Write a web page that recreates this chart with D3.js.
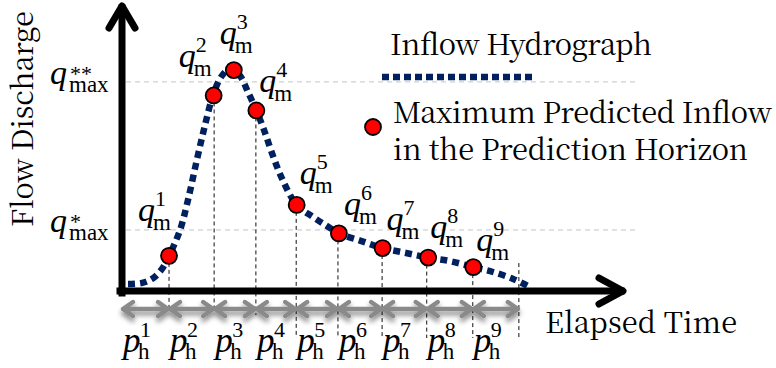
<!DOCTYPE html>
<html>
<head>
<meta charset="utf-8">
<script src="https://cdn.jsdelivr.net/npm/d3@7"></script>
<style>
  body { margin: 0; background: #fff; }
  svg { display: block; }
</style>
</head>
<body>
<div id="chart"></div>
<script>
/* Hydrograph samples (time, discharge) */
const hydroT = [0.125, 0.42, 0.65, 0.83, 0.98, 1.21, 1.375, 1.56, 1.73, 1.90, 2.08, 2.27, 2.46, 2.625, 2.80, 2.96,
  3.125, 3.33, 3.64, 3.98, 4.27, 4.52, 4.96, 5.43, 5.92, 6.375, 6.83, 7.32, 7.73, 8.15, 8.46];
const hydroQ = [0.24, 0.28, 0.45, 0.76, 1.22, 2.12, 3.16, 4.55, 5.76, 6.81, 7.47, 7.74, 7.47, 6.91, 6.27, 5.59,
  4.79, 3.92, 2.99, 2.57, 2.26, 2.0, 1.75, 1.49, 1.32, 1.16, 1.04, 0.83, 0.66, 0.42, 0.17];

/* Maximum predicted inflow in each horizon */
const peakT = [0.98, 1.91, 2.33, 2.80, 3.64, 4.52, 5.43, 6.38, 7.32];
const peakQ = [1.22, 6.79, 7.67, 6.27, 2.99, 2.0, 1.49, 1.16, 0.83];
const peakSup = ["1", "2", "3", "4", "5", "6", "7", "8", "9"];

/* Prediction horizon boundaries */
const horizonT = [0, 0.98, 1.92, 2.79, 3.63, 4.5, 5.42, 6.35, 7.31, 8.27];
const horizonSup = ["1", "2", "3", "4", "5", "6", "7", "8", "9"];
/* discharge where each boundary's dashed drop line starts (boundaries 1..9) */
const dropQ = [1.22, 6.79, 6.27, 2.99, 2.0, 1.49, 1.16, 0.83, 0.97];

/* Threshold levels */
const levelQ = [7.26, 2.12];
const levelSup = ["**", "*"];

/* Layout-only constants */
const labelOffsets = [[-31, -35], [-35, -28], [-14, -26], [3, -18], [3, -21], [5, -18], [4, -18], [2, -20], [3, -16]];
const dropBottom = [312, 312, 315, 338, 338, 338, 338, 338, 338];

const width = 776, height = 368;
const navy = "#002060";
const serif = '"Liberation Serif"';
const wideSerif = '"Noto Serif CJK SC"';

const svg = d3.select("#chart").append("svg")
  .attr("width", width).attr("height", height)
  .attr("viewBox", [0, 0, width, height]);

const defs = svg.append("defs");
const shadow = defs.append("filter").attr("id", "shadow")
  .attr("x", "-20%").attr("y", "-100%").attr("width", "140%").attr("height", "300%");
shadow.append("feDropShadow")
  .attr("dx", 0).attr("dy", 4).attr("stdDeviation", 2.5)
  .attr("flood-color", "#000").attr("flood-opacity", 0.45);

const x = d3.scaleLinear().domain([0, 10.44]).range([122, 623]);
const y = d3.scaleLinear().domain([0, 10]).range([291, 3]);

/* Threshold gridlines */
svg.append("g")
  .selectAll("line")
  .data(levelQ)
  .join("line")
    .attr("x1", x(0) + 4).attr("x2", 637)
    .attr("y1", d => y(d)).attr("y2", d => y(d))
    .attr("stroke", "#c4c4c4").attr("stroke-width", 1)
    .attr("stroke-dasharray", "5,4");

/* Drop lines from horizon ends */
svg.append("g")
  .selectAll("line")
  .data(horizonT.slice(1))
  .join("line")
    .attr("x1", d => x(d)).attr("x2", d => x(d))
    .attr("y1", (d, i) => y(dropQ[i]))
    .attr("y2", (d, i) => dropBottom[i])
    .attr("stroke", "#111").attr("stroke-width", 1)
    .attr("stroke-dasharray", "4,3");

/* Horizon arrows */
const arrowY = 309;
const segs = d3.pairs(horizonT);
svg.append("g")
  .attr("filter", "url(#shadow)")
  .selectAll("path")
  .data(segs)
  .join("path")
    .attr("stroke", "#8a8a8a").attr("stroke-width", 4.5)
    .attr("fill", "none").attr("stroke-linecap", "round").attr("stroke-linejoin", "round")
    .attr("d", ([a, b]) => {
      const x0 = x(a) + 1, x1 = x(b) - 1;
      return `M${x0},${arrowY}L${x1},${arrowY}` +
        `M${x0 + 10},${arrowY - 7}L${x0},${arrowY}L${x0 + 10},${arrowY + 7}` +
        `M${x1 - 10},${arrowY - 7}L${x1},${arrowY}L${x1 - 10},${arrowY + 7}`;
    });

/* Axes with arrow heads */
const yTop = y.range()[1] + 3, xEnd = x.range()[1];
const axisPaths = [
  `M${x(0)},${y(0) + 2}L${x(0)},${yTop + 2}M${x(0) - 2},${y(0)}L${xEnd - 2},${y(0)}`,
  `M${x(0) - 13},${yTop + 22}L${x(0)},${yTop}L${x(0) + 13},${yTop + 22}`,
  `M${xEnd - 24},${y(0) - 13}L${xEnd},${y(0)}L${xEnd - 24},${y(0) + 13}`
];
svg.append("g")
  .selectAll("path")
  .data(axisPaths)
  .join("path")
    .attr("d", d => d)
    .attr("stroke", "#000").attr("stroke-width", 7).attr("fill", "none")
    .attr("stroke-linecap", (d, i) => i === 0 ? "square" : "round")
    .attr("stroke-linejoin", "round");

/* Hydrograph */
const line = d3.line()
  .x(d => x(d))
  .y((d, i) => y(hydroQ[i]))
  .curve(d3.curveCatmullRom);
svg.append("path")
  .attr("d", line(hydroT))
  .attr("fill", "none")
  .attr("stroke", navy).attr("stroke-width", 6.5)
  .attr("stroke-dasharray", "7,5");

/* Peak points */
svg.append("g")
  .selectAll("circle")
  .data(peakT)
  .join("circle")
    .attr("cx", d => x(d))
    .attr("cy", (d, i) => y(peakQ[i]))
    .attr("r", 8)
    .attr("fill", "#ff0000").attr("stroke", "#000").attr("stroke-width", 1.8);

/* Math-style label in one text: italic base, stacked superscript and subscript */
const mathLabel = (g, x0, yb, base, sup, sub, opts = {}) => {
  const t = g.append("text").attr("fill", "#000").style("font-family", serif);
  t.append("tspan").attr("x", x0).attr("y", yb)
    .style("font-family", serif).style("font-size", `${opts.baseSize ?? 34}px`)
    .style("font-style", "italic").text(base);
  t.append("tspan").attr("x", x0 + (opts.supDx ?? 17)).attr("y", yb + (opts.supDy ?? -15))
    .style("font-family", serif).style("font-size", "22px").text(sup);
  t.append("tspan").attr("x", x0 + (opts.subDx ?? 15)).attr("y", yb + (opts.subDy ?? 9))
    .style("font-family", serif).style("font-size", `${opts.subSize ?? 23}px`).text(sub);
};

const labels = svg.append("g");
peakT.forEach((t, i) => {
  mathLabel(labels, x(t) + labelOffsets[i][0], y(peakQ[i]) + labelOffsets[i][1], "q", peakSup[i], "m");
});
segs.forEach(([a], i) => {
  mathLabel(labels, x(a) + 1, 352, "p", horizonSup[i], "h", { subDy: 7, baseSize: 35 });
});
levelQ.forEach((q, i) => {
  mathLabel(labels, 50, y(q) + 2, "q", levelSup[i], "max", { supDx: 20, supDy: -3, subDx: 19, subSize: 23, subDy: 8 });
});

/* Plain text helper */
const plainText = (x0, y0, str, len, transform) => {
  const t = svg.append("text")
    .attr("x", x0).attr("y", y0)
    .attr("fill", "#000")
    .style("font-family", wideSerif).style("font-size", "29px")
    .attr("textLength", len).attr("lengthAdjust", "spacing")
    .text(str);
  if (transform) t.attr("transform", transform);
  return t;
};

/* Axis titles */
plainText(0, 0, "Flow Discharge", 216, "translate(33,227) rotate(-90)");
plainText(545, 333, "Elapsed Time", 192);

/* Legend */
plainText(390, 55, "Inflow Hydrograph", 262);
svg.append("line")
  .attr("x1", 382).attr("x2", 536).attr("y1", 77).attr("y2", 77)
  .attr("stroke", navy).attr("stroke-width", 6.5).attr("stroke-dasharray", "7,4");
svg.append("circle")
  .attr("cx", 373).attr("cy", 127).attr("r", 8)
  .attr("fill", "#ff0000").attr("stroke", "#000").attr("stroke-width", 1.8);
plainText(393, 123, "Maximum Predicted Inflow", 379);
plainText(393, 160, "in the Prediction Horizon", 355);
</script>
</body>
</html>
